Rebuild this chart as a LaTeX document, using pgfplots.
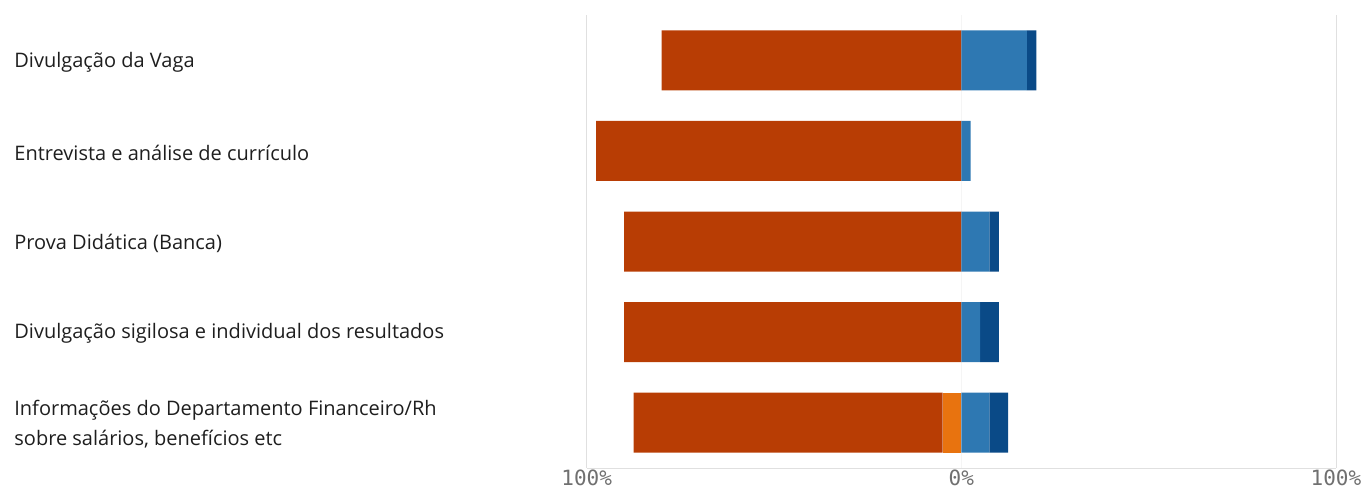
\documentclass[border=0pt]{standalone}
\usepackage{fontspec}
\setmainfont{Open Sans}
\newfontfamily\tickfont{DejaVu Sans Mono}
\usepackage{pgfplots}
\pgfplotsset{compat=1.18}
\definecolor{cDarkRed}{HTML}{B83D04}
\definecolor{cOrange}{HTML}{E8730F}
\definecolor{cBlue}{HTML}{2E78B2}
\definecolor{cDarkBlue}{HTML}{0A4A87}
\definecolor{labelcol}{HTML}{1E1E1E}
\definecolor{tickcol}{HTML}{707070}
\begin{document}
\begin{tikzpicture}
\useasboundingbox (-293.35pt,-10.5pt) rectangle (390.15pt,234pt);
\pgfplotsset{
  common/.style={
    scale only axis, width=374.65pt, height=226.5pt,
    xmin=-100, xmax=100, ymin=0.5, ymax=5.5, y dir=reverse,
    xbar stacked, bar width=30pt,
  }
}
\begin{axis}[
  common,
  axis line style={draw=none},
  major tick length=0pt,
  xtick={-100,100}, xticklabels={100\%,100\%},
  extra x ticks={0}, extra x tick labels={0\%},
  extra x tick style={grid style={color=black!4}},
  xmajorgrids, grid style={color=black!12},
  xticklabel style={font=\tickfont\fontsize{10.5}{10.5}\selectfont, text=tickcol, inner sep=0pt, anchor=base, yshift=-8.6pt},
  ytick={1,2,3,4,5},
  yticklabels={Divulgação da Vaga, Entrevista e análise de currículo, Prova Didática (Banca), Divulgação sigilosa e individual dos resultados, {Informações do Departamento Financeiro/Rh\\sobre salários, benefícios etc}},
  yticklabel style={anchor=west, align=left, inner sep=0pt, xshift=-286.35pt, yshift=-0.8pt, font=\fontsize{10}{15}\selectfont, text=labelcol},
]
\draw[color=black!12] (axis description cs:0,0) -- (axis description cs:1,0);
% negative side: stacked from 0 outwards
\addplot[fill=cOrange, draw=none] coordinates {(0,1) (0,2) (0,3) (0,4) (-5,5)};
\addplot[fill=cDarkRed, draw=none] coordinates {(-80,1) (-97.5,2) (-90,3) (-90,4) (-82.5,5)};
\end{axis}
\begin{axis}[common, hide axis]
% positive side
\addplot[fill=cBlue, draw=none] coordinates {(17.5,1) (2.5,2) (7.5,3) (5,4) (7.5,5)};
\addplot[fill=cDarkBlue, draw=none] coordinates {(2.5,1) (0,2) (2.5,3) (5,4) (5,5)};
\end{axis}
\end{tikzpicture}
\end{document}
